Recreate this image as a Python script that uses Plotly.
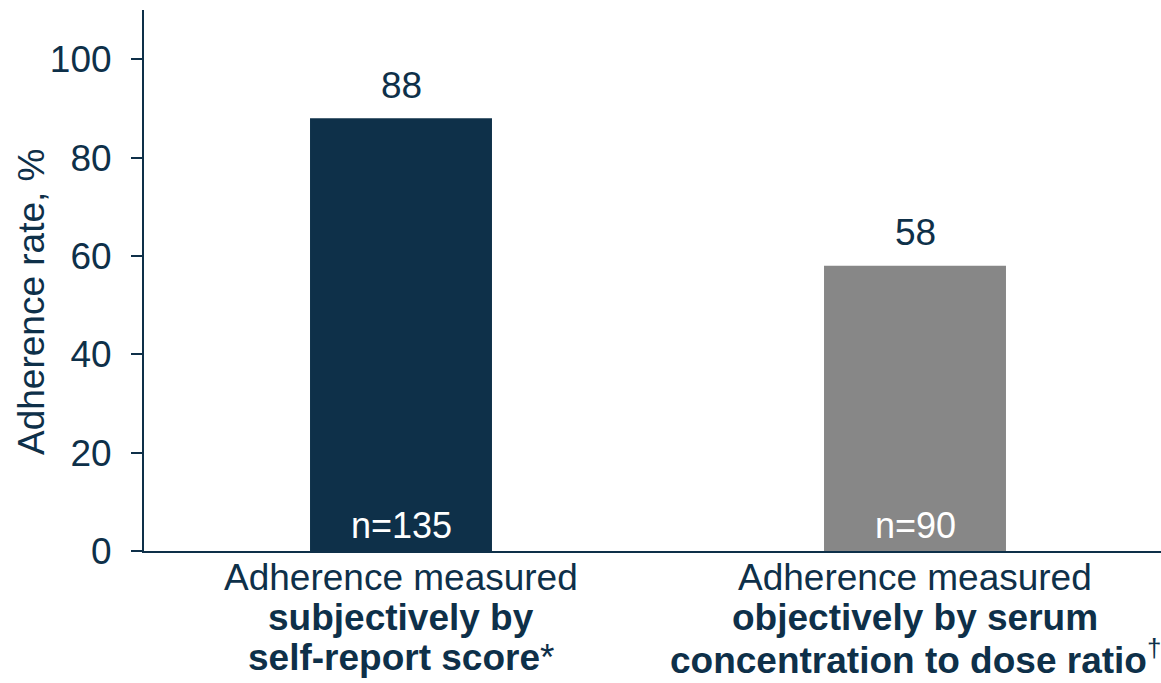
import plotly.graph_objects as go

categories = [0, 1]
values = [88, 58]
n_labels = ["n=135", "n=90"]
bar_colors = ["#0e3049", "#878787"]
cat_line1 = ["Adherence measured", "Adherence measured"]
cat_line2 = ["<b>subjectively by</b>", "<b>objectively by serum</b>"]
cat_line3 = ["<b>self-report score</b>*", "<b>concentration to dose ratio</b><sup>†</sup>"]
y_ticks = [0, 20, 40, 60, 80, 100]

NAVY = "#0e3049"
FONT = "Liberation Sans, Arial, sans-serif"
FS = 37

fig = go.Figure()
fig.add_trace(go.Bar(
    x=categories, y=values, width=0.354,
    marker=dict(color=bar_colors, line=dict(width=0)),
    hoverinfo="skip",
))

ann = []
for c, v, n in zip(categories, values, n_labels):
    ann.append(dict(x=c, y=v, xref="x", yref="y", text=str(v), showarrow=False,
                    yanchor="middle", yshift=33, font=dict(size=FS, color=NAVY, family=FONT)))
    ann.append(dict(x=c, y=0, xref="x", yref="y", text=n, showarrow=False,
                    yanchor="middle", yshift=26, font=dict(size=36, color="white", family=FONT)))

# category labels (three lines each)
def py(p):
    return (551 - p) / 541

for c, l1, l2, l3 in zip(categories, cat_line1, cat_line2, cat_line3):
    for line, ypix in ((l1, 577), (l2, 617), (l3, 657)):
        ann.append(dict(x=c, y=py(ypix), xref="x", yref="paper", text=line, showarrow=False,
                        yanchor="middle", font=dict(size=FS, color=NAVY, family=FONT)))

ann.append(dict(x=(31 - 144) / 1017, y=py(302), xref="paper", yref="paper",
                text="Adherence rate, %", textangle=-90, showarrow=False,
                xanchor="center", yanchor="middle",
                font=dict(size=FS, color=NAVY, family=FONT)))

fig.update_layout(
    width=1161, height=683,
    margin=dict(l=144, r=0, t=10, b=132),
    paper_bgcolor="white", plot_bgcolor="white",
    showlegend=False,
    annotations=ann,
    font=dict(family=FONT, color=NAVY),
)
fig.update_xaxes(range=[-0.5, 1.4786], showticklabels=False, showgrid=False, zeroline=False,
                 showline=True, linecolor=NAVY, linewidth=2, ticks="", fixedrange=True)
fig.update_yaxes(range=[0, 110], tickvals=y_ticks, showgrid=False, zeroline=False,
                 showline=True, linecolor=NAVY, linewidth=2, ticks="outside", ticklen=11,
                 tickwidth=2, tickcolor=NAVY, ticklabelstandoff=12,
                 tickfont=dict(size=FS, color=NAVY, family=FONT), fixedrange=True)

fig.write_html("out.html", config={"displayModeBar": False})
